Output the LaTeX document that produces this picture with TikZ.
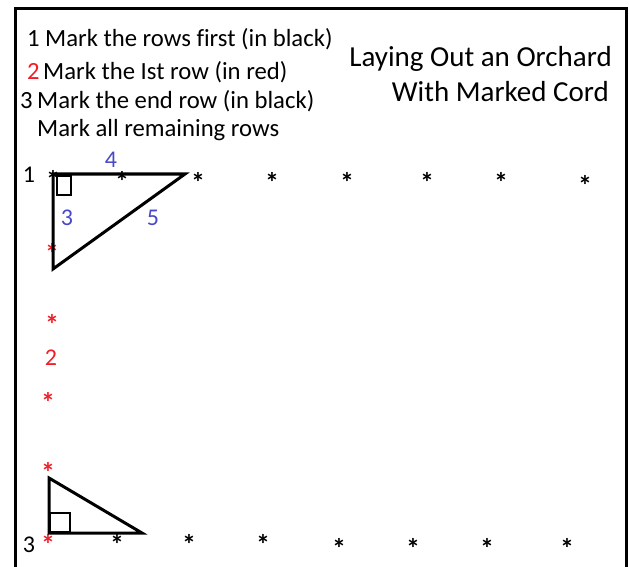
\documentclass[tikz,border=0pt]{standalone}
\usepackage{fontspec}
\setmainfont{Carlito}[Ligatures=NoCommon]
\definecolor{lblue}{RGB}{72,72,200}
\definecolor{lred}{RGB}{240,30,40}
\tikzset{
  txt/.style={inner sep=0pt, anchor=base west, font=\fontsize{24.7bp}{29bp}\selectfont},
  ttl/.style={inner sep=0pt, anchor=base east, font=\fontsize{29bp}{33bp}\selectfont},
  lbl/.style={inner sep=0pt, anchor=base, font=\fontsize{24bp}{28bp}\selectfont},
  ast/.style={inner sep=0pt, anchor=center, yshift=-5bp, font=\fontsize{28bp}{32bp}\selectfont\bfseries},
  frame/.style={line width=3bp},
  tri/.style={line width=3bp, line join=miter},
  sq/.style={line width=2.5bp, line join=miter}
}
\begin{document}
\begin{tikzpicture}[x=1bp, y=-1bp]
\useasboundingbox (0,0) rectangle (629,567);
% frame
\coordinate (fbl) at (15,567);
\coordinate (ftl) at (15,9);
\coordinate (ftr) at (626,9);
\coordinate (fbr) at (626,567);
\draw[frame] (fbl) -- (ftl) -- (ftr) -- (fbr);
% instructions
\node[txt] (n1) at (27,47) {1};
\node[txt] (t1) at (45,47) {Mark the rows first (in black)};
\node[txt, text=lred] (n2) at (27,80) {2};
\node[txt] (t2) at (43,80) {Mark the Ist row (in red)};
\node[txt] (n3) at (20,109) {3};
\node[txt] (t3) at (37,109) {Mark the end row (in black)};
\node[txt] (t4) at (37,137) {Mark all remaining rows};
% title
\node[ttl] (h1) at (612,67) {Laying Out an Orchard};
\node[ttl] (h2) at (609,102) {With Marked Cord};
% row 1 asterisks
\node[ast] (a10) at (53,175) {*};
\node[ast] (a11) at (122,176) {*};
\node[ast] (a12) at (198,177) {*};
\node[ast] (a13) at (272,177) {*};
\node[ast] (a14) at (347,177) {*};
\node[ast] (a15) at (427,177) {*};
\node[ast] (a16) at (501,177) {*};
\node[ast] (a17) at (585,180) {*};
% red column
\node[ast, text=lred] (r1) at (52,248) {*};
\node[ast, text=lred] (r2) at (52,319) {*};
\node[lbl, text=lred] (r2l) at (51,365) {2};
\node[ast, text=lred] (r3) at (48,397) {*};
\node[ast, text=lred] (r4) at (48,467) {*};
\node[ast, text=lred] (r5) at (48,539) {*};
% row 3 asterisks
\node[ast] (b1) at (117,539) {*};
\node[ast] (b2) at (189,539) {*};
\node[ast] (b3) at (263,539) {*};
\node[ast] (b4) at (339,543) {*};
\node[ast] (b5) at (413,543) {*};
\node[ast] (b6) at (487,543) {*};
\node[ast] (b7) at (567,543) {*};
% row labels
\node[lbl] (l1) at (29,183) {1};
\node[lbl] (l3) at (29,552) {3};
% triangle 1
\coordinate (A) at (53,174);
\coordinate (B) at (185,174);
\coordinate (C) at (53,269);
\draw[tri] (A) -- (B) -- (C) -- cycle;
\coordinate (s1a) at (57,176);
\coordinate (s1b) at (71,195);
\draw[sq] (s1a) rectangle (s1b);
\node[lbl, text=lblue] (d4) at (111,168) {4};
\node[lbl, text=lblue] (d3) at (67,225) {3};
\node[lbl, text=lblue] (d5) at (153,225) {5};
% triangle 2
\coordinate (D) at (49,478);
\coordinate (E) at (49,533);
\coordinate (F) at (142,533);
\draw[tri] (D) -- (E) -- (F) -- cycle;
\coordinate (s2a) at (50,513);
\coordinate (s2b) at (70,532);
\draw[sq] (s2a) rectangle (s2b);
\end{tikzpicture}
\end{document}
